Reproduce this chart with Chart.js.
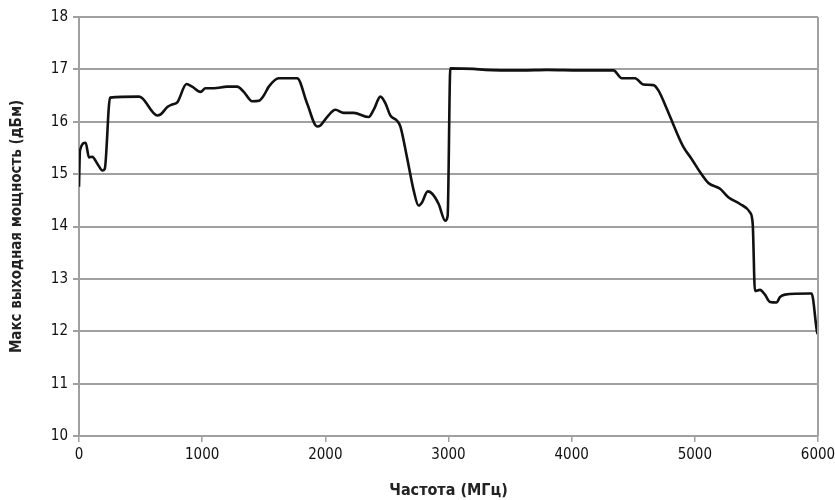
<!DOCTYPE html>
<html><head><meta charset="utf-8">
<script src="https://cdn.jsdelivr.net/npm/chart.js@4"></script>
<style>html,body{margin:0;padding:0;background:#fff}#w{width:835px;height:500px}</style>
</head><body><div id="w"><canvas id="c"></canvas></div>
<script>
const freq = [0,8,54,81,108,149,190,209,252,487,514,636,663,717,757,798,873,919,987,1027,1095,1203,1284,1338,1406,1460,1500,1541,1622,1744,1771,1852,1933,1960,2014,2082,2149,2230,2352,2393,2447,2488,2528,2582,2609,2663,2717,2757,2785,2831,2866,2920,2974,2993,3015,3204,3300,3600,3800,4069,4339,4407,4515,4582,4663,4704,4772,4839,4907,4974,5042,5110,5205,5272,5367,5448,5470,5488,5529,5569,5610,5664,5691,5731,5934,5948,5994,6000];
const power = [14.76,15.45,15.6,15.32,15.33,15.2,15.07,15.1,16.46,16.48,16.45,16.12,16.14,16.28,16.33,16.37,16.72,16.67,16.57,16.64,16.64,16.67,16.67,16.57,16.39,16.4,16.5,16.67,16.83,16.83,16.83,16.35,15.91,15.93,16.09,16.23,16.17,16.17,16.09,16.23,16.48,16.35,16.12,16.02,15.91,15.32,14.69,14.40,14.46,14.67,14.63,14.43,14.11,14.2,17.02,17.01,16.99,16.98,16.99,16.98,16.98,16.83,16.83,16.71,16.7,16.6,16.25,15.87,15.52,15.29,15.04,14.83,14.72,14.56,14.43,14.27,14.05,12.77,12.79,12.70,12.56,12.55,12.65,12.70,12.72,12.72,11.97,11.95];
const xTitle = 'Частота (МГц)';
const yTitle = 'Макс выходная мощность (дБм)';
const FONT = "'Liberation Sans Narrow','DejaVu Sans Condensed','Arial Narrow',sans-serif";
const frame = {
  id:'frame',
  afterDraw(ch){
    const a = ch.chartArea, c = ch.ctx;
    c.save(); c.strokeStyle='#a0a0a0'; c.lineWidth=2;
    c.beginPath(); c.moveTo(a.right, a.top); c.lineTo(a.right, a.bottom); c.stroke();
    c.restore();
  }
};
new Chart(document.getElementById('c'), {
  type:'line',
  data:{datasets:[{data:freq.map((f,i)=>({x:f,y:power[i]})), borderColor:'#111', borderWidth:2.6, pointRadius:0, cubicInterpolationMode:'monotone', fill:false}]},
  options:{
    responsive:true, maintainAspectRatio:false, animation:false,
    layout:{padding:{top:17,right:17,left:0,bottom:0}},
    plugins:{legend:{display:false},tooltip:{enabled:false}},
    scales:{
      x:{type:'linear',min:0,max:6000,
        ticks:{stepSize:1000,color:'#111',font:{family:FONT,size:15},padding:4,callback:v=>String(v)},
        grid:{drawOnChartArea:false,drawTicks:true,tickLength:6,color:'#a0a0a0',lineWidth:1.5},
        border:{display:false},
        title:{display:true,text:xTitle,color:'#222',font:{family:FONT,size:16,weight:'bold'},padding:{top:5,bottom:0}},
        afterFit(s){s.height=64;s.paddingRight=0;s.paddingLeft=0;}
      },
      y:{min:10,max:18,
        ticks:{stepSize:1,color:'#111',font:{family:FONT,size:15},padding:5},
        grid:{color:'#a0a0a0',lineWidth:2,tickLength:6},
        border:{display:true,color:'#a0a0a0',width:2},
        title:{display:true,text:yTitle,color:'#222',font:{family:FONT,size:15,weight:'bold'},padding:{top:8,bottom:4}},
        afterFit(s){s.width=79;s.paddingTop=0;s.paddingBottom=0;}
      }
    }
  },
  plugins:[frame]
});
</script></body></html>
